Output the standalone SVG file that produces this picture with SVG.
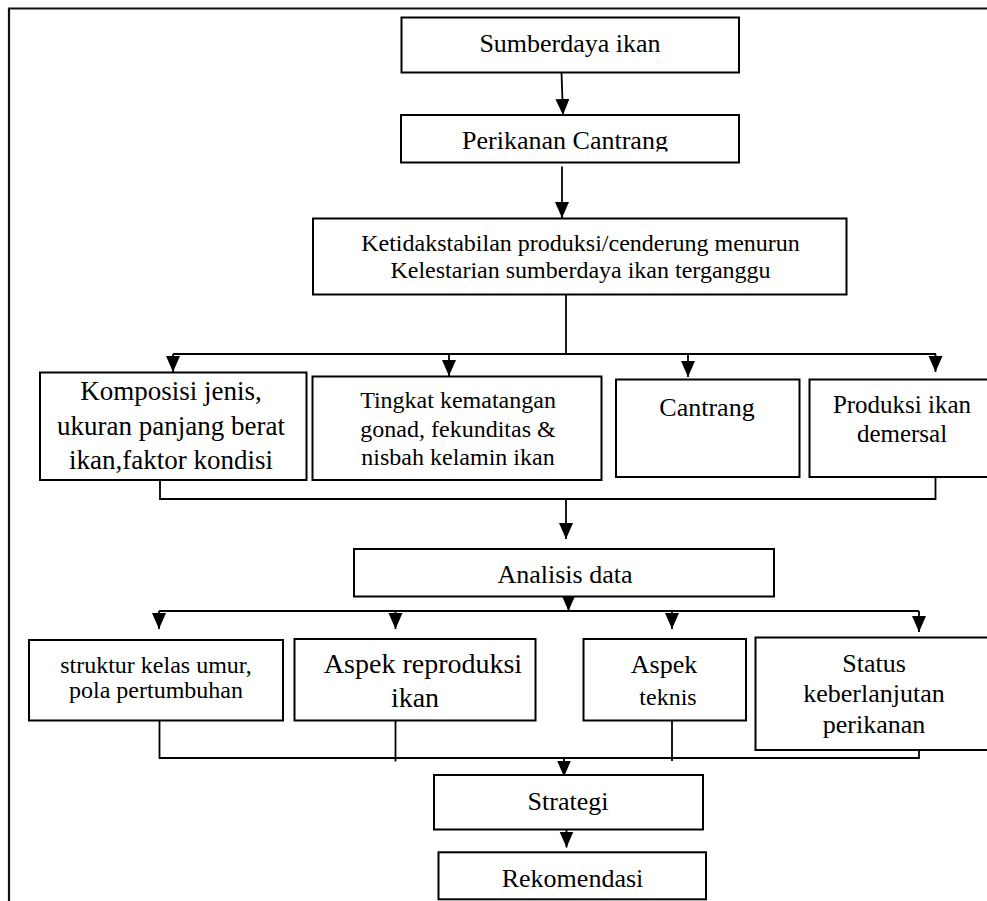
<svg xmlns="http://www.w3.org/2000/svg" width="987" height="901" viewBox="0 0 987 901" font-family="'Liberation Serif', 'Times New Roman', Times, serif">
<style>
.box{fill:#fff;stroke:#000;stroke-width:2}
.ln{fill:none;stroke:#000;stroke-width:1.8}
text{font-family:'Liberation Serif','Times New Roman',Times,serif;fill:#000;text-anchor:middle}
</style>
<defs>
<marker id="ah" markerUnits="userSpaceOnUse" markerWidth="17" markerHeight="15" refX="16" refY="7" orient="auto">
<path d="M0,0 L16,7 L0,14 z" fill="#000"/>
</marker>
<clipPath id="c2"><rect x="400" y="114" width="340" height="37.5"/></clipPath>
</defs>
<rect width="987" height="901" fill="#fff"/>
<path d="M9,901 L9,8.5 L987,8.5" fill="none" stroke="#111" stroke-width="2.2"/>

<g id="connectors">
<line class="ln" x1="561.5" y1="72.5" x2="563" y2="115" marker-end="url(#ah)"/>
<line class="ln" x1="562" y1="166.5" x2="562" y2="218" marker-end="url(#ah)"/>
<line class="ln" x1="566" y1="294" x2="566" y2="354"/>
<line class="ln" x1="173" y1="354" x2="936" y2="354"/>
<line class="ln" x1="173" y1="354" x2="173" y2="372" marker-end="url(#ah)"/>
<line class="ln" x1="449" y1="354" x2="449" y2="376" marker-end="url(#ah)"/>
<line class="ln" x1="688" y1="354" x2="688" y2="377" marker-end="url(#ah)"/>
<line class="ln" x1="935.5" y1="354" x2="935.5" y2="372" marker-end="url(#ah)"/>
<path class="ln" d="M160,477 L160,499 L935.5,499 L935.5,477"/>
<line class="ln" x1="566" y1="499" x2="566" y2="539" marker-end="url(#ah)"/>
<line class="ln" x1="568.5" y1="587" x2="568.5" y2="611" marker-end="url(#ah)"/>
<line class="ln" x1="159" y1="611" x2="919" y2="611"/>
<line class="ln" x1="159" y1="611" x2="159" y2="629" marker-end="url(#ah)"/>
<line class="ln" x1="395.5" y1="611" x2="395.5" y2="629" marker-end="url(#ah)"/>
<line class="ln" x1="672" y1="611" x2="672" y2="629" marker-end="url(#ah)"/>
<line class="ln" x1="919" y1="611" x2="919" y2="632" marker-end="url(#ah)"/>
<path class="ln" d="M159.5,720.5 L159.5,758 L919,758 L919,750"/>
<line class="ln" x1="395.5" y1="708" x2="395.5" y2="761.5"/>
<line class="ln" x1="672" y1="708" x2="672" y2="761"/>
<line class="ln" x1="564" y1="758" x2="564" y2="776.5" marker-end="url(#ah)"/>
<line class="ln" x1="566.5" y1="826.5" x2="566.5" y2="847.5" marker-end="url(#ah)"/>
</g>

<g id="n1">
<rect class="box" x="401.5" y="17.5" width="337.5" height="55"/>
<text x="570" y="52" font-size="26">Sumberdaya ikan</text>
</g>
<g id="n2">
<rect class="box" x="401" y="115" width="338" height="47.5"/>
<text x="565" y="149" font-size="26" clip-path="url(#c2)">Perikanan Cantrang</text>
</g>
<g id="n3">
<rect class="box" x="313" y="218.5" width="533.5" height="76"/>
<text x="580.5" y="251" font-size="24">Ketidakstabilan produksi/cenderung menurun</text>
<text x="580.5" y="277.5" font-size="24">Kelestarian sumberdaya ikan terganggu</text>
</g>
<g id="n4">
<rect class="box" x="40" y="372.5" width="266.5" height="107.5"/>
<text x="171" y="400" font-size="27">Komposisi jenis,</text>
<text x="171" y="435" font-size="27">ukuran panjang berat</text>
<text x="171" y="469" font-size="27">ikan,faktor kondisi</text>
</g>
<g id="n5">
<rect class="box" x="312.5" y="376.5" width="289" height="103.5"/>
<text x="458" y="408" font-size="24">Tingkat kematangan</text>
<text x="458" y="436.5" font-size="24">gonad, fekunditas &amp;</text>
<text x="458" y="465" font-size="24">nisbah kelamin ikan</text>
</g>
<g id="n6">
<rect class="box" x="616" y="379.5" width="183.5" height="97.5"/>
<text x="707" y="416" font-size="26">Cantrang</text>
</g>
<g id="n7">
<rect class="box" x="809.5" y="379.5" width="186" height="97.5"/>
<text x="902" y="412.5" font-size="25">Produksi ikan</text>
<text x="902" y="441.5" font-size="25">demersal</text>
</g>
<g id="n8">
<rect class="box" x="354" y="549" width="420" height="47.5"/>
<text x="565" y="583" font-size="26">Analisis data</text>
</g>
<g id="n9">
<rect class="box" x="29" y="640" width="254" height="80.5"/>
<text x="156" y="673" font-size="24">struktur kelas umur,</text>
<text x="156" y="698" font-size="24">pola pertumbuhan</text>
</g>
<g id="n10">
<rect class="box" x="294.5" y="639" width="241" height="81.5"/>
<text x="423" y="673" font-size="28">Aspek reproduksi</text>
<text x="415" y="706.5" font-size="28">ikan</text>
</g>
<g id="n11">
<rect class="box" x="583.5" y="639" width="162.5" height="81.5"/>
<text x="664" y="673" font-size="26">Aspek</text>
<text x="668" y="705" font-size="24">teknis</text>
</g>
<g id="n12">
<rect class="box" x="755.5" y="637.5" width="238" height="112.5"/>
<text x="874" y="672" font-size="26">Status</text>
<text x="874" y="702" font-size="26">keberlanjutan</text>
<text x="874" y="733" font-size="26">perikanan</text>
</g>
<g id="n13">
<rect class="box" x="434" y="775" width="269" height="54.5"/>
<text x="568" y="810" font-size="26">Strategi</text>
</g>
<g id="n14">
<rect class="box" x="438.5" y="852.3" width="267.5" height="47"/>
<text x="572.5" y="886.5" font-size="26">Rekomendasi</text>
</g>
</svg>
